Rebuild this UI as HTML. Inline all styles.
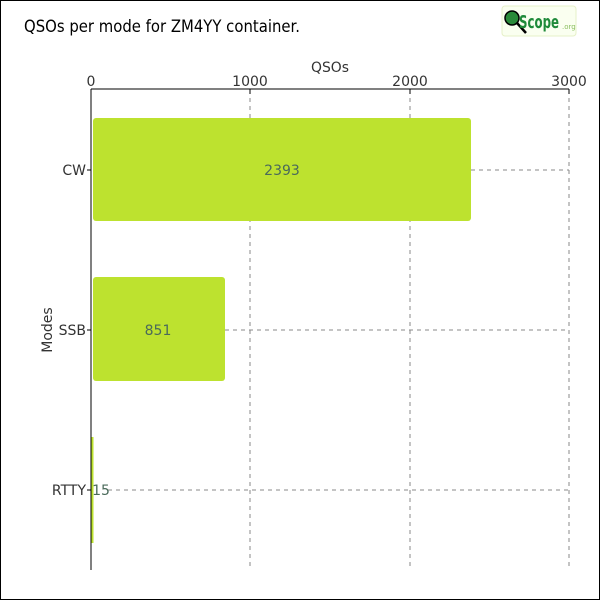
<!DOCTYPE html>
<html><head><meta charset="utf-8"><style>
body{margin:0;background:#fff}
svg{display:block;font-family:"DejaVu Sans","Liberation Sans",sans-serif}
</style></head><body>
<svg width="600" height="600" viewBox="0 0 600 600">
<rect x="0.5" y="0.5" width="599" height="599" fill="#fff" stroke="#000"/>
<text x="24" y="32" font-size="17" fill="#000" textLength="276" lengthAdjust="spacingAndGlyphs">QSOs per mode for ZM4YY container.</text>
<rect x="502" y="6" width="74" height="30" rx="3" fill="#fafff0" stroke="#e6f0c8"/>
<circle cx="512" cy="18" r="7" fill="#2a8a3a" stroke="#000" stroke-width="1.5"/>
<line x1="517" y1="23" x2="526" y2="33" stroke="#000" stroke-width="2.5"/>
<text x="519" y="28" font-size="18" font-weight="bold" fill="#1f8a3a" textLength="40" lengthAdjust="spacingAndGlyphs">Scope</text>
<text x="562" y="29" font-size="7" fill="#8bbf60">.org</text>
<text x="330" y="72" font-size="14" fill="#333" text-anchor="middle" textLength="38" lengthAdjust="spacingAndGlyphs">QSOs</text>
<g font-size="14" fill="#333" text-anchor="middle">
<text x="91" y="86">0</text><text x="250" y="86">1000</text><text x="410" y="86">2000</text><text x="569" y="86">3000</text>
</g>
<g stroke="#888" stroke-dasharray="4,4" fill="none">
<line x1="250" y1="90" x2="250" y2="570"/><line x1="410" y1="90" x2="410" y2="570"/><line x1="569" y1="90" x2="569" y2="570"/>
<line x1="471" y1="170" x2="569" y2="170"/><line x1="225" y1="330" x2="569" y2="330"/><line x1="108" y1="490" x2="569" y2="490"/>
</g>
<g fill="#bde22f">
<rect x="93" y="118" width="378" height="103" rx="3"/>
<rect x="93" y="277" width="132" height="104" rx="3"/>
<rect x="91.5" y="437" width="2" height="106"/>
</g>
<g stroke="#000" fill="none">
<line x1="91" y1="89" x2="569" y2="89"/>
<line x1="91" y1="89" x2="91" y2="570"/>
<line x1="91" y1="89" x2="91" y2="94"/><line x1="250" y1="89" x2="250" y2="94"/><line x1="410" y1="89" x2="410" y2="94"/><line x1="569" y1="89" x2="569" y2="94"/>
<line x1="87" y1="170" x2="91" y2="170"/><line x1="87" y1="330" x2="91" y2="330"/><line x1="87" y1="490" x2="91" y2="490"/>
</g>
<g font-size="14" fill="#333" text-anchor="end">
<text x="86" y="175">CW</text><text x="86" y="335">SSB</text><text x="86" y="495">RTTY</text>
</g>
<text transform="translate(52,330) rotate(-90)" font-size="14" fill="#333" text-anchor="middle">Modes</text>
<g font-size="14" fill="#4a6a5a" text-anchor="middle">
<text x="282" y="175">2393</text><text x="158" y="335">851</text><text x="101" y="495">15</text>
</g>
</svg>
</body></html>
